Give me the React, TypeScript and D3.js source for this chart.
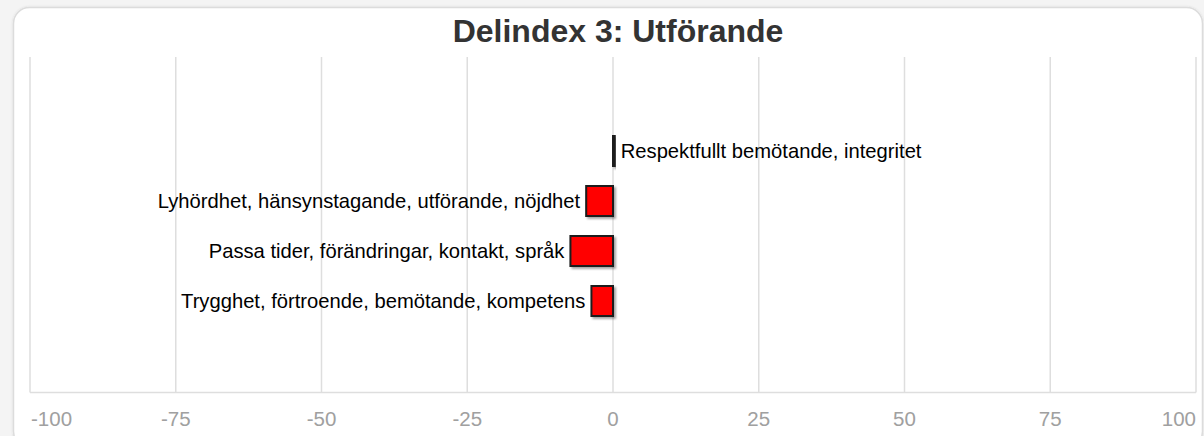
import React from "react";
import * as d3 from "d3";

const categories = [
  "Respektfullt bemötande, integritet",
  "Lyhördhet, hänsynstagande, utförande, nöjdhet",
  "Passa tider, förändringar, kontakt, språk",
  "Trygghet, förtroende, bemötande, kompetens",
];
const values = [0.3, -4.6, -7.3, -3.7];
const tickValues = [-100, -75, -50, -25, 0, 25, 50, 75, 100];
const title = "Delindex 3: Utförande";

const W = 1204;
const H = 436;
const FONT = "'Liberation Sans', Arial, sans-serif";

export default function App() {
  const x = d3.scaleLinear().domain([-100, 100]).range([30, 1196]);
  const y = d3
    .scaleBand<string>()
    .domain(categories)
    .range([59, 393])
    .paddingInner(0.4)
    .paddingOuter(1.54);
  const top = 57;
  const bottom = 392.5;

  return (
    <div style={{ position: "fixed", left: 0, top: 0, width: W, height: H, background: "#f4f4f4" }}>
      <svg width={W} height={H} style={{ display: "block" }}>
        <defs>
          <filter id="shadow" x="-50%" y="-50%" width="200%" height="200%">
            <feDropShadow dx="2" dy="2" stdDeviation="1.2" floodColor="#000" floodOpacity="0.35" />
          </filter>
          <filter id="cardShadow" x="-5%" y="-5%" width="110%" height="110%">
            <feDropShadow dx="0" dy="0" stdDeviation="1" floodColor="#000" floodOpacity="0.12" />
          </filter>
        </defs>
        <rect x={13.5} y={7.5} width={1189} height={440} rx={16} ry={16} fill="#fff" stroke="#dcdcdc" strokeWidth={1.5} filter="url(#cardShadow)" />
        <text x={618} y={42} textAnchor="middle" fontFamily={FONT} fontWeight="bold" fontSize={32} fill="#333">
          {title}
        </text>
        {tickValues.map((t) => (
          <line key={"g" + t} x1={x(t)} x2={x(t)} y1={top} y2={bottom} stroke="#dedede" strokeWidth={1.5} />
        ))}
        <line x1={x(-100)} x2={x(100)} y1={bottom} y2={bottom} stroke="#dedede" strokeWidth={1.5} />
        {tickValues.map((t, i) => {
          const anchor = i === 0 ? "start" : i === tickValues.length - 1 ? "end" : "middle";
          return (
            <text key={"t" + t} x={x(t) + (i === 0 ? 1 : 0)} y={426} textAnchor={anchor} fontFamily={FONT} fontSize={20.5} fill="#a0a0a0">
              {t}
            </text>
          );
        })}
        {categories.map((c, i) => {
          const v = values[i];
          const x0 = x(Math.min(0, v));
          const x1 = x(Math.max(0, v));
          const by = y(c)!;
          const bh = y.bandwidth();
          return (
            <g key={c}>
              <rect x={x0} y={by} width={x1 - x0} height={bh} fill="#ff0000" stroke="#1a1a1a" strokeWidth={2} filter="url(#shadow)" />
              <text
                x={v < 0 ? x0 - 6 : x1 + 6}
                y={by + bh / 2}
                dy="0.35em"
                textAnchor={v < 0 ? "end" : "start"}
                fontFamily={FONT}
                fontSize={20.2}
                fill="#000"
              >
                {c}
              </text>
            </g>
          );
        })}
      </svg>
    </div>
  );
}
